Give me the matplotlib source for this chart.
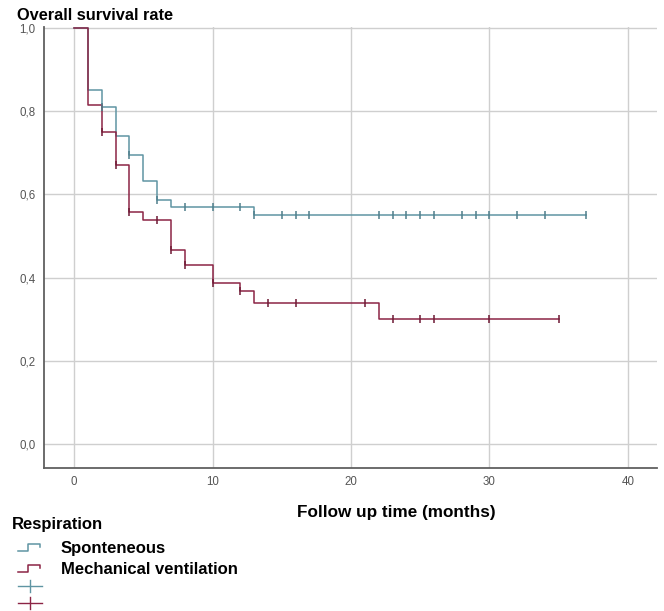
import matplotlib
matplotlib.use('Agg')
import matplotlib.pyplot as plt
from matplotlib.lines import Line2D

# Kaplan-Meier steps
sp_time = [0, 1, 2, 3, 4, 5, 6, 7, 13, 37]
sp_surv = [1.0, 0.85, 0.81, 0.74, 0.695, 0.632, 0.587, 0.57, 0.55, 0.55]
sp_cens_t = [2, 4, 6, 8, 10, 12, 13, 15, 16, 17, 22, 23, 24, 25, 26, 28, 29, 30, 32, 34, 37]
sp_cens_s = [0.81, 0.695, 0.587, 0.57, 0.57, 0.57] + [0.55] * 15

mv_time = [0, 1, 2, 3, 4, 5, 7, 8, 10, 12, 13, 22, 35]
mv_surv = [1.0, 0.815, 0.75, 0.67, 0.557, 0.538, 0.466, 0.43, 0.388, 0.367, 0.339, 0.30, 0.30]
mv_cens_t = [2, 3, 4, 6, 7, 8, 10, 12, 14, 16, 21, 23, 25, 26, 30, 35]
mv_cens_s = [0.75, 0.67, 0.557, 0.538, 0.466, 0.43, 0.388, 0.367, 0.339, 0.339, 0.339,
             0.30, 0.30, 0.30, 0.30, 0.30]

x_ticks = [0, 10, 20, 30, 40]
y_ticks = [0.0, 0.2, 0.4, 0.6, 0.8, 1.0]
y_labels = ['0,0', '0,2', '0,4', '0,6', '0,8', '1,0']
groups = ['Sponteneous', 'Mechanical ventilation']

c_sp = '#5f95a3'
c_mv = '#8c2445'

plt.rcParams['font.family'] = ['Liberation Sans', 'DejaVu Sans']

fig = plt.figure(figsize=(6.64, 6.11), dpi=100)
ax = fig.add_axes([44 / 664, 1 - 468 / 611, 613 / 664, 441 / 611])

ax.step(sp_time, sp_surv, where='post', color=c_sp, lw=1.1)
ax.step(mv_time, mv_surv, where='post', color=c_mv, lw=1.1)
ax.plot(sp_cens_t, sp_cens_s, ls='none', marker='|', ms=5.5, mew=1.1, color='#4f7f8c')
ax.plot(mv_cens_t, mv_cens_s, ls='none', marker='|', ms=5.5, mew=1.1, color='#6e1a35')

ax.set_xlim(-2.17, 42.1)
ax.set_ylim(-0.058, 1.0025)
ax.set_xticks(x_ticks)
ax.set_yticks(y_ticks)
ax.set_yticklabels(y_labels)
ax.tick_params(length=0, labelsize=8.3, labelcolor='#555555', pad=6)
ax.grid(True, color='#cfcfcf', lw=1)
ax.set_axisbelow(True)
for s in ['top', 'right']:
    ax.spines[s].set_visible(False)
for s in ['left', 'bottom']:
    ax.spines[s].set_color('#606060')
    ax.spines[s].set_linewidth(1.3)

fig.text(17 / 664, 1 - 16 / 611, 'Overall survival rate', fontsize=11.8,
         fontweight='bold', va='center', ha='left')
fig.text(396 / 664, 1 - 513 / 611, 'Follow up time (months)', fontsize=12.3,
         fontweight='bold', va='center', ha='center')

# legend drawn by hand, like the SPSS output
fig.text(12 / 664, 1 - 524 / 611, 'Respiration', fontsize=12,
         fontweight='bold', va='center', ha='left')
rows_y = [548, 569]
for name, col, yy in zip(groups, [c_sp, c_mv], rows_y):
    y0 = 1 - (yy + 3) / 611
    y1 = 1 - (yy - 4) / 611
    xs = [18 / 664, 28 / 664, 28 / 664, 40 / 664, 40 / 664]
    ys = [y0, y0, y1, y1, 1 - (yy - 1) / 611]
    fig.add_artist(Line2D(xs, ys, color=col, lw=1.1, transform=fig.transFigure))
    fig.text(61 / 664, 1 - yy / 611, name, fontsize=12, fontweight='bold',
             va='center', ha='left')
for col, yy in zip([c_sp, c_mv], [586, 603]):
    fig.add_artist(Line2D([18 / 664, 42 / 664], [1 - yy / 611] * 2, color=col,
                          lw=1.0, transform=fig.transFigure))
    fig.add_artist(Line2D([30 / 664] * 2, [1 - (yy - 6) / 611, 1 - (yy + 6) / 611],
                          color=col, lw=1.0, transform=fig.transFigure))

fig.savefig('out.png', dpi=100)
